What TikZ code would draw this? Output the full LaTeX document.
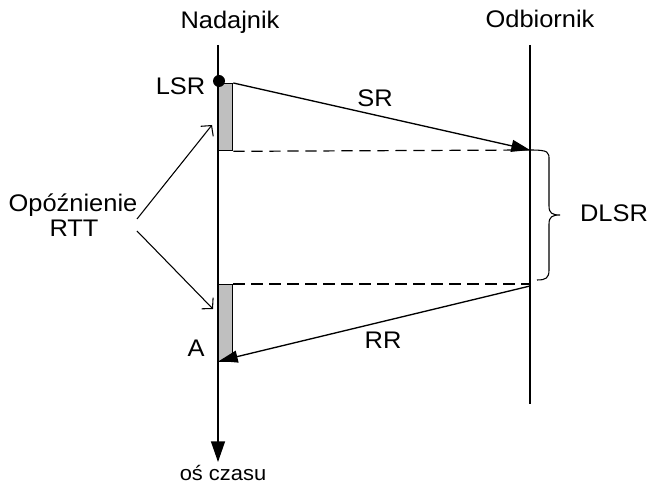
\documentclass[tikz,border=0pt]{standalone}
\usepackage{fontspec}
\setmainfont{Liberation Sans}
\usetikzlibrary{arrows.meta}
\newcommand{\wide}[1]{\scalebox{1.06}[1]{#1}}
\begin{document}
\begin{tikzpicture}[x=0.75pt,y=-0.75pt, line width=1pt,
  lbl/.style={font=\fontsize{18}{22}\selectfont, inner sep=0pt, anchor=base},
  small/.style={font=\fontsize{15.5}{18}\selectfont, inner sep=0pt, anchor=base},
  delay/.style={draw, fill=black!25, line width=1pt, inner sep=0pt, minimum width=10.5pt, anchor=north west},
  msg/.style={-{Triangle[length=14pt,width=9pt]}},
  point/.style={-{Straight Barb[length=5.5pt,width=12pt]}, line width=0.8pt},
  dashline/.style={dash pattern=on 8.5pt off 5pt, line width=0.9pt}]
\useasboundingbox (0,0) rectangle (653,484);
% titles
\node[lbl] (nad) at (230,29) {\wide{Nadajnik}};
\node[lbl] (odb) at (540,28) {\wide{Odbiornik}};
% axes coordinates
\coordinate (nadTop) at (218,45);
\coordinate (nadBot) at (218,462);
\coordinate (odbTop) at (530,45);
\coordinate (odbBot) at (530,404);
% delay boxes
\node[delay, minimum height=50.25pt] (r1) at (218,83) {};
\node[delay, minimum height=57.75pt] (r2) at (218,284) {};
% time axes
\draw[-{Triangle[length=15.5pt,width=10.5pt]}] (nadTop) -- (nadBot);
\draw (odbTop) -- (odbBot);
\node[small] (os) at (223,480) {\wide{oś czasu}};
% LSR dot
\node[circle, fill=black, inner sep=0pt, minimum size=9pt] (dot) at (219,81) {};
% messages
\coordinate (srEnd) at (530,150);
\coordinate (rrStart) at (530,286);
\coordinate (rrEnd) at (219,361);
\draw[msg] (r1.north east) -- (srEnd);
\draw[msg] (rrStart) -- (rrEnd);
\coordinate (d1) at (530,150);
\coordinate (d2) at (530,284);
\draw[dashline] (r1.south east) -- (d1);
\draw[dashline] (r2.north east) -- (d2);
% labels
\node[lbl] (sr) at (375,107) {\wide{SR}};
\node[lbl] (rr) at (383,349) {\wide{RR}};
\node[lbl, anchor=base east] (lsr) at (206,95) {\wide{LSR}};
\node[lbl] (a) at (196,357) {\wide{A}};
\node[lbl] (dlsr) at (614,222) {\wide{DLSR}};
% brace
\coordinate (bTop) at (530,150);
\coordinate (bTip) at (560,215);
\coordinate (bBot) at (537,280);
\draw[line width=0.8pt] (bTop) .. controls (549,150) and (549,152) .. (549,160)
  -- (549,206) .. controls (549,213) and (552,215) .. (bTip)
  .. controls (552,215) and (549,217) .. (549,224)
  -- (549,270) .. controls (549,278) and (546,280) .. (bBot);
% RTT label
\node[lbl] (op) at (73,212) {\wide{Opóźnienie}};
\node[lbl] (rtt) at (74,237) {\wide{RTT}};
\coordinate (p1s) at (137,219);
\coordinate (p1e) at (212,125);
\coordinate (p2s) at (137,231);
\coordinate (p2e) at (213,309);
\draw[point] (p1s) -- (p1e);
\draw[point] (p2s) -- (p2e);
\end{tikzpicture}
\end{document}
